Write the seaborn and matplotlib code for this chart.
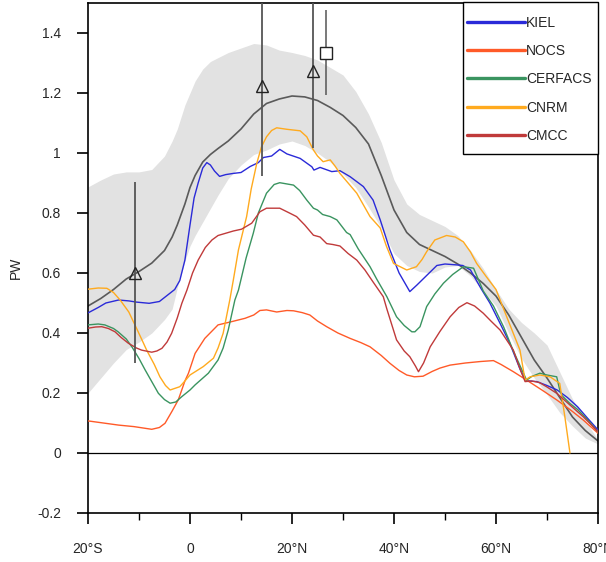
import numpy as np
import pandas as pd
import matplotlib
matplotlib.use("Agg")
import matplotlib.pyplot as plt
import seaborn as sns
from matplotlib.lines import Line2D
from matplotlib.patches import Rectangle

# ---------------- data ----------------
band_lat = [-20, -17.5, -15, -12.5, -10, -7.5, -5, -3.5, -2.5, -1, 0, 1, 2.5, 4, 5.5, 7.5, 10,
            12.5, 15, 17.5, 20, 22.5, 25, 27.5, 30, 32.5, 35, 37.5, 40, 42.5, 45, 47.5, 50,
            52.5, 55, 57.5, 60, 62.5, 65, 67.5, 70, 72.5, 75, 77.5, 80]
band_upper = [0.887, 0.91, 0.93, 0.937, 0.937, 0.945, 0.99, 1.04, 1.08, 1.16, 1.20, 1.24, 1.28,
              1.305, 1.318, 1.335, 1.35, 1.365, 1.36, 1.343, 1.335, 1.325, 1.31, 1.285, 1.26,
              1.205, 1.13, 1.035, 0.91, 0.83, 0.795, 0.775, 0.755, 0.725, 0.675, 0.615, 0.545,
              0.48, 0.435, 0.4, 0.36, 0.27, 0.18, 0.11, 0.043]
band_lower = [0.2, 0.25, 0.3, 0.345, 0.37, 0.4, 0.445, 0.48, 0.55, 0.64, 0.69, 0.725, 0.77,
              0.815, 0.86, 0.915, 0.96, 0.995, 1.01, 1.03, 1.04, 1.025, 1.0, 0.97, 0.93, 0.885,
              0.82, 0.75, 0.665, 0.625, 0.605, 0.6, 0.62, 0.625, 0.59, 0.54, 0.49, 0.40, 0.315,
              0.25, 0.195, 0.135, 0.09, 0.05, 0.03]
mean_pw = [0.49, 0.515, 0.545, 0.58, 0.605, 0.633, 0.675, 0.72, 0.76, 0.83, 0.885, 0.925, 0.97,
           0.995, 1.015, 1.04, 1.08, 1.13, 1.165, 1.18, 1.19, 1.187, 1.175, 1.152, 1.125, 1.085,
           1.03, 0.925, 0.81, 0.735, 0.695, 0.675, 0.655, 0.63, 0.6, 0.565, 0.523, 0.46, 0.385,
           0.31, 0.25, 0.185, 0.12, 0.075, 0.04]

kiel_lat = [-20, -18, -16.5, -14, -12, -10.5, -8, -6, -4.5, -3, -2, -1, 0, 0.8, 1.6, 2.5, 3.3, 4,
            4.8, 5.8, 7, 8.5, 10, 11.8, 13.4, 14.4, 16, 17.6, 19, 21.6, 23.9, 24.3, 25.5, 27.8,
            29.4, 31.4, 34, 35.9, 37.3, 39.2, 41, 43.1, 44.5, 46, 48.4, 50, 52.3, 53.5, 55, 57,
            58.8, 60.8, 62.7, 64.7, 65.7, 66.5, 68, 70, 72, 74, 76, 78, 80]
kiel_pw = [0.467, 0.485, 0.5, 0.51, 0.507, 0.503, 0.499, 0.505, 0.525, 0.545, 0.575, 0.643, 0.76,
           0.85, 0.9, 0.95, 0.968, 0.96, 0.94, 0.922, 0.928, 0.932, 0.935, 0.955, 0.968, 0.985,
           0.99, 1.012, 0.997, 0.982, 0.954, 0.943, 0.952, 0.938, 0.941, 0.921, 0.888, 0.843,
           0.777, 0.677, 0.6, 0.538, 0.56, 0.585, 0.625, 0.63, 0.627, 0.625, 0.61, 0.55, 0.5,
           0.432, 0.366, 0.28, 0.243, 0.24, 0.238, 0.225, 0.21, 0.185, 0.154, 0.115, 0.077]

nocs_lat = [-20, -17, -14, -11, -7.5, -6, -4.9, -3.5, -2.3, -1, -0.3, 1, 2.9, 5.5, 8.2, 10.8,
            12.5, 13.7, 15, 17, 19, 20.3, 22, 23.5, 25, 26.8, 29, 31.4, 33.5, 35.3, 37.5, 39.2,
            41, 42.5, 44, 45.7, 47.5, 49, 51, 54, 57, 59.5, 61, 63.4, 66, 69, 71.9, 74.5, 77.1, 80]
nocs_pw = [0.107, 0.1, 0.093, 0.088, 0.079, 0.085, 0.099, 0.14, 0.177, 0.24, 0.266, 0.332, 0.382,
           0.427, 0.438, 0.449, 0.46, 0.475, 0.477, 0.47, 0.475, 0.474, 0.468, 0.46, 0.44, 0.421,
           0.4, 0.382, 0.368, 0.354, 0.325, 0.299, 0.275, 0.26, 0.254, 0.256, 0.272, 0.283, 0.293,
           0.3, 0.305, 0.308, 0.295, 0.271, 0.243, 0.21, 0.177, 0.145, 0.11, 0.066]

cerfacs_lat = [-20, -18, -16.7, -15, -14.1, -12.5, -11.4, -10, -8.8, -7.5, -6.2, -5, -3.9, -2.8,
               -1.6, 0, 1, 3.6, 5.5, 6.5, 7.5, 8.8, 9.5, 11, 12.4, 13.4, 15, 16.5, 17.6, 20.3,
               21.5, 22.9, 24.2, 25, 26, 27.5, 28.8, 30.7, 31.4, 33, 35.3, 36.6, 38.6, 40.5, 42,
               43.5, 44.1, 45.1, 46.4, 48, 49.7, 51.5, 53.6, 55.6, 57.5, 59.5, 61.5, 63.4, 65, 66,
               67, 68.6, 70, 71.9, 72.5, 73, 74.5, 76, 78, 80]
cerfacs_pw = [0.427, 0.43, 0.427, 0.415, 0.404, 0.38, 0.354, 0.315, 0.277, 0.238, 0.199, 0.178,
              0.166, 0.17, 0.188, 0.21, 0.227, 0.266, 0.31, 0.35, 0.41, 0.51, 0.543, 0.65, 0.732,
              0.8, 0.866, 0.895, 0.901, 0.893, 0.875, 0.843, 0.816, 0.81, 0.795, 0.788, 0.777,
              0.735, 0.728, 0.68, 0.621, 0.58, 0.521, 0.454, 0.425, 0.404, 0.404, 0.421, 0.488,
              0.53, 0.566, 0.595, 0.621, 0.616, 0.54, 0.49, 0.42, 0.34, 0.28, 0.243, 0.255, 0.266,
              0.26, 0.254, 0.21, 0.19, 0.165, 0.145, 0.11, 0.07]

cnrm_lat = [-20, -18, -16.3, -15, -13.7, -12, -10.8, -9.5, -8.5, -7, -5.9, -4.8, -3.9, -2, -1, 0,
            2.6, 4.6, 5.5, 6.5, 7.8, 8.5, 9.5, 11.1, 12, 13.1, 14, 15, 16, 17, 19, 21.6, 22.9,
            23.6, 24.2, 25, 26.1, 27.5, 28.5, 29.4, 31, 32.7, 35.3, 37.3, 38.5, 39.9, 42.5, 44.4,
            45.5, 46.4, 48, 50.3, 52, 53.6, 55, 56.2, 58, 60, 62.1, 64.7, 65.7, 66.7, 68.6, 70.6,
            72.5, 73.5, 74.5]
cnrm_pw = [0.546, 0.55, 0.549, 0.535, 0.51, 0.47, 0.427, 0.38, 0.343, 0.295, 0.254, 0.225, 0.21,
           0.221, 0.24, 0.26, 0.288, 0.316, 0.35, 0.399, 0.51, 0.577, 0.677, 0.788, 0.88, 0.966,
           1.02, 1.054, 1.075, 1.084, 1.079, 1.074, 1.054, 1.03, 1.01, 0.99, 0.971, 0.977, 0.955,
           0.932, 0.9, 0.866, 0.788, 0.75, 0.69, 0.632, 0.61, 0.621, 0.645, 0.671, 0.71, 0.725,
           0.72, 0.704, 0.67, 0.632, 0.59, 0.545, 0.454, 0.343, 0.243, 0.254, 0.26, 0.254, 0.232,
           0.121, 0.0]

cmcc_lat = [-20, -18.5, -17.3, -16, -14.7, -13.5, -12.1, -10.5, -9.5, -7.5, -6.5, -5.5, -4.5,
            -3.6, -2.5, -1.6, -0.6, 0.5, 1.6, 3, 4.3, 5.5, 6.9, 8.5, 10.1, 12.1, 13.7, 15, 17.6,
            19.5, 20.9, 22.5, 24.2, 25.5, 26.8, 28, 29.4, 31, 32.7, 34.3, 35.9, 37.9, 38.6, 40.5,
            42, 43.1, 44.2, 44.8, 45.8, 47.1, 49, 51, 52.7, 54.3, 55.8, 57.5, 59, 60.8, 63.4,
            64.5, 65.7, 67, 68.5, 70, 71.9, 74.5, 77.1, 80]
cmcc_pw = [0.416, 0.42, 0.421, 0.415, 0.404, 0.385, 0.366, 0.35, 0.343, 0.336, 0.34, 0.349, 0.37,
           0.399, 0.45, 0.499, 0.543, 0.6, 0.643, 0.685, 0.71, 0.725, 0.732, 0.74, 0.746, 0.766,
           0.804, 0.816, 0.816, 0.8, 0.788, 0.76, 0.726, 0.72, 0.698, 0.695, 0.69, 0.665, 0.643,
           0.61, 0.57, 0.521, 0.48, 0.377, 0.34, 0.321, 0.29, 0.271, 0.3, 0.354, 0.405, 0.454,
           0.485, 0.501, 0.49, 0.466, 0.44, 0.41, 0.343, 0.29, 0.238, 0.24, 0.235, 0.22, 0.199,
           0.16, 0.121, 0.071]

obs_tri_lat = [-10.8, 14.1, 24.2]
obs_tri_pw = [0.60, 1.223, 1.274]
obs_tri_lo = [0.30, 0.923, 1.017]
obs_tri_hi = [0.904, 1.60, 1.60]
obs_sq_lat = [26.6]
obs_sq_pw = [1.334]
obs_sq_lo = [1.193]
obs_sq_hi = [1.477]

models = ["KIEL", "NOCS", "CERFACS", "CNRM", "CMCC"]
colors = {"KIEL": "#2a2ad8", "NOCS": "#ff5a28", "CERFACS": "#3a9460",
          "CNRM": "#ffaa1e", "CMCC": "#c03a3a"}

xticks = [-20, 0, 20, 40, 60, 80]
xticklabels = ["20°S", "0", "20°N", "40°N", "60°N", "80°N"]
yticks = [-0.2, 0, 0.2, 0.4, 0.6, 0.8, 1.0, 1.2, 1.4]
yticklabels = ["-0.2", "0", "0.2", "0.4", "0.6", "0.8", "1", "1.2", "1.4"]

# ---------------- build long frame ----------------
frames = []
for name, la, pw in [("KIEL", kiel_lat, kiel_pw), ("NOCS", nocs_lat, nocs_pw),
                     ("CERFACS", cerfacs_lat, cerfacs_pw), ("CNRM", cnrm_lat, cnrm_pw),
                     ("CMCC", cmcc_lat, cmcc_pw)]:
    frames.append(pd.DataFrame({"lat": la, "pw": pw, "model": name}))
df = pd.concat(frames, ignore_index=True)

# ---------------- plot ----------------
sns.set_style("white")
plt.rcParams["font.family"] = ["Liberation Sans", "DejaVu Sans"]

fig = plt.figure(figsize=(6.06, 5.62), dpi=100)
ax = fig.add_axes([88 / 606, 1 - 513 / 562, (598 - 88) / 606, (513 - 3) / 562])

ax.fill_between(band_lat, band_lower, band_upper, color="#e2e2e2", lw=0, zorder=1)
sns.lineplot(x=band_lat, y=mean_pw, color="#5a5a5a", lw=1.2, ax=ax, zorder=2)

sns.lineplot(data=df, x="lat", y="pw", hue="model", palette=colors, hue_order=models,
             estimator=None, sort=False, lw=1.0, legend=False, ax=ax, zorder=3)

ax.axhline(0, color="black", lw=0.9, zorder=2)

ax.vlines(obs_tri_lat, obs_tri_lo, obs_tri_hi, color="#555555", lw=1.3, zorder=4)
ax.vlines(obs_sq_lat, obs_sq_lo, obs_sq_hi, color="#555555", lw=1.1, zorder=4)
ax.plot(obs_tri_lat, obs_tri_pw, linestyle="none", marker="^", ms=8.5, mfc="none",
        mec="#222222", mew=1.0, zorder=5)
ax.plot(obs_sq_lat, obs_sq_pw, linestyle="none", marker="s", ms=8.5, mfc="white",
        mec="#222222", mew=1.0, zorder=5)

ax.set_xlim(-20, 80)
ax.set_ylim(-0.2, 1.5)
ax.set_xticks(xticks)
ax.set_xticklabels(xticklabels, fontsize=10)
ax.set_xticks([-10, 10, 30, 50, 70], minor=True)
ax.set_yticks(yticks)
ax.set_yticklabels(yticklabels, fontsize=10)
ax.tick_params(axis="x", which="major", direction="out", length=8, width=1.2,
               color="black", pad=13, bottom=True)
ax.tick_params(axis="y", which="major", direction="out", length=8, width=1.2,
               color="black", pad=11.5, left=True)
ax.tick_params(axis="x", which="minor", direction="out", length=5, width=1.0,
               color="black", bottom=True)
ax.set_xlabel("")
ax.set_ylabel("PW", fontsize=10)
ax.yaxis.set_label_coords(-0.127, 0.48)
for s in ax.spines.values():
    s.set_color("black")
    s.set_linewidth(1.2)

# legend frame + entries
frame = Rectangle((463 / 606, 1 - 154 / 562), 135 / 606, 152 / 562,
                  transform=fig.transFigure, fill=True, facecolor="white",
                  edgecolor="black", lw=1.0, zorder=9, clip_on=False)
ax.add_patch(frame)
handles = [Line2D([0], [0], color=colors[m], lw=2.4) for m in models]
leg = ax.legend(handles, models, loc="upper left", bbox_to_anchor=(467 / 606, 1 - 16 / 562),
                bbox_transform=fig.transFigure, borderaxespad=0, frameon=False,
                fontsize=10, handlelength=4.2, handletextpad=0.05, labelspacing=1.02,
                borderpad=0)
leg.set_zorder(10)

fig.savefig("out.png", dpi=100)
